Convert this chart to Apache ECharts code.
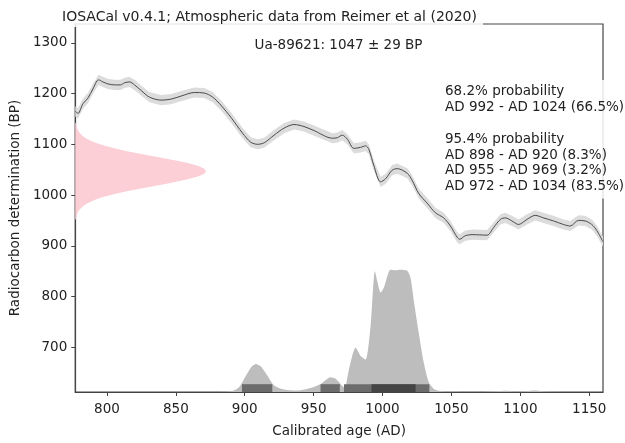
<!DOCTYPE html>
<html><head><meta charset="utf-8">
<script src="https://cdn.jsdelivr.net/npm/echarts@6/dist/echarts.min.js"></script>
<style>html,body{margin:0;padding:0;background:#fff}#c{width:625px;height:443px}</style>
</head><body><div id="c"></div>
<script>
// Calibration curve (AD, BP)
const curveYears = [777, 779, 782.6, 786.2, 789.8, 793.9, 797, 800.7, 805.5, 809.8, 812.7, 816.3, 820, 824.8, 830.8, 839.3, 846.5, 853.8, 863.4, 870.6, 876.7, 882.7, 890, 898.4, 904.4, 909.3, 914.1, 921.3, 928.6, 935.8, 943, 950.3, 963.6, 967.2, 970.8, 974.5, 979.2, 984.1, 987.7, 990.1, 993.7, 998.6, 1002.2, 1007, 1010.7, 1017.9, 1021.5, 1026.3, 1032.4, 1038.4, 1044.4, 1049.3, 1054.1, 1056, 1060.1, 1065, 1075.8, 1080.6, 1085.5, 1089.1, 1093.9, 1098.7, 1104.8, 1110.8, 1116.8, 1124.1, 1131.3, 1136.2, 1142.2, 1147, 1151.9, 1155.5, 1160];
const curveBP = [1165, 1161, 1180, 1191, 1209, 1227, 1223, 1219, 1217, 1217, 1221, 1223, 1217, 1206, 1193, 1187, 1189, 1195, 1202, 1201, 1193, 1177, 1153, 1122, 1104, 1100, 1103, 1118, 1132, 1139, 1135, 1127, 1112, 1113, 1118, 1110, 1092, 1094, 1097, 1090, 1058, 1026, 1032, 1049, 1052, 1043, 1029, 1003, 984, 965, 955, 939, 917, 913, 920, 922, 921, 936, 952, 955, 949, 942, 952, 960, 955, 949, 942, 939, 950, 949, 942, 930, 908];
const curveErr = 10;

// Calibrated probability (height above axis bottom, in BP units)
const densYears = [777, 880, 887, 892, 896, 899.6, 904.4, 908.1, 911.7, 916.5, 921.3, 928.6, 938.3, 947.9, 955.1, 962.4, 966, 970.8, 972.5, 975.6, 980.5, 984.1, 987.7, 991.3, 994.5, 996.2, 998.6, 1001, 1005.8, 1009.4, 1013.1, 1017.9, 1020.3, 1022.7, 1026.3, 1029.9, 1033.6, 1037.2, 1042, 1050, 1070, 1085, 1090, 1096, 1105, 1110, 1116, 1125, 1140, 1160];
const densHeight = [0, 0, 1, 3, 10, 26, 48, 55, 50, 32, 13, 5, 3, 8, 16, 29, 26, 12, 8, 44, 87, 71, 64, 129, 238, 218, 196, 206, 241, 240, 241, 239, 225, 180, 116, 58, 19, 6, 2, 1, 0.5, 2, 2.5, 1, 2, 3, 1.5, 0.5, 0, 0];

// Radiocarbon measurement distribution (BP, width in years from left edge)
const pinkBP =    [952, 957, 962, 967, 972, 977, 982, 987, 992, 997, 1002, 1007, 1012, 1017, 1022, 1027, 1032, 1037, 1042, 1047, 1052, 1057, 1062, 1067, 1072, 1077, 1082, 1087, 1092, 1097, 1102, 1107, 1112, 1117, 1122, 1127, 1132, 1137, 1142];
const pinkWidth = [0.45, 0.8, 1.3, 2.1, 3.4, 5.2, 7.7, 11.2, 15.8, 21.5, 28.5, 36.7, 45.9, 55.6, 65.5, 74.9, 83.1, 89.5, 93.6, 95, 93.6, 89.5, 83.1, 74.9, 65.5, 55.6, 45.9, 36.7, 28.5, 21.5, 15.8, 11.2, 7.7, 5.2, 3.4, 2.1, 1.3, 0.8, 0.45];

const ranges95 = [[898, 920], [955, 969], [972, 1034]];
const ranges68 = [[992, 1024]];

const xTicks = [800, 850, 900, 950, 1000, 1050, 1100, 1150];
const yTicks = [700, 800, 900, 1000, 1100, 1200, 1300];

const titleText = 'IOSACal v0.4.1; Atmospheric data from Reimer et al (2020)';
const sampleText = 'Ua-89621: 1047 ± 29 BP';
const probLines = ['68.2% probability', 'AD 992 - AD 1024 (66.5%)', '', '95.4% probability', 'AD 898 - AD 920 (8.3%)', 'AD 955 - AD 969 (3.2%)', 'AD 972 - AD 1034 (83.5%)'];

const xMin = 777, xMax = 1160, yMin = 612, yMax = 1337;
const barH = 15.4;
const FONT = 'DejaVu Sans';
const AX = '#444';
const FS = 13.5;

const chart = echarts.init(document.getElementById('c'), null, {renderer: 'canvas'});

const curveData = curveYears.map((x, i) => [x, curveBP[i]]);
const densData = densYears.map((x, i) => [x, yMin + densHeight[i]]);

function polySeries(name, buildPts, color, z) {
  return {
    type: 'custom', name: name, z: z, silent: true, clip: true,
    data: [[xMin, yMin]],
    renderItem: function (params, api) {
      return {type: 'polygon', shape: {points: buildPts(api)}, style: {fill: color}};
    }
  };
}

function rangeSeries(ranges, color, z) {
  return {
    type: 'custom', z: z, silent: true,
    data: ranges.map(r => [r[0], r[1]]),
    renderItem: function (params, api) {
      const p1 = api.coord([api.value(0), yMin]);
      const p2 = api.coord([api.value(1), yMin + barH]);
      return {type: 'rect', shape: {x: p1[0], y: p2[1], width: p2[0] - p1[0], height: p1[1] - p2[1]}, style: {fill: color}};
    }
  };
}

const plain = v => String(Math.round(v));

const option = {
  animation: false,
  backgroundColor: '#fff',
  textStyle: {fontFamily: FONT},
  grid: {left: 74, right: 22, top: 24, bottom: 43, show: true, borderColor: AX, borderWidth: 1.2, backgroundColor: 'transparent'},
  xAxis: {
    type: 'value', min: xMin, max: xMax,
    name: 'Calibrated age (AD)', nameLocation: 'middle', nameGap: 32,
    nameTextStyle: {fontSize: FS, color: '#222', fontFamily: FONT},
    axisLine: {show: true, lineStyle: {color: AX, width: 1.2}},
    axisTick: {show: true, inside: false, length: 4, lineStyle: {color: AX, width: 1}, customValues: xTicks},
    axisLabel: {color: '#222', fontSize: FS, fontFamily: FONT, margin: 10, customValues: xTicks, formatter: plain},
    splitLine: {show: false}
  },
  yAxis: {
    type: 'value', min: yMin, max: yMax,
    name: 'Radiocarbon determination (BP)', nameLocation: 'middle', nameGap: 45, nameRotate: 90,
    nameTextStyle: {fontSize: FS, color: '#222', fontFamily: FONT},
    axisLine: {show: true, lineStyle: {color: AX, width: 1.2}},
    axisTick: {show: true, inside: false, length: 4, lineStyle: {color: AX, width: 1}, customValues: yTicks},
    axisLabel: {color: '#222', fontSize: FS, fontFamily: FONT, margin: 8, customValues: yTicks, formatter: plain},
    splitLine: {show: false}
  },
  series: [
    polySeries('band', function (api) {
      const up = curveData.map(d => api.coord([d[0], d[1] + curveErr]));
      const lo = curveData.slice().reverse().map(d => api.coord([d[0], d[1] - curveErr]));
      return up.concat(lo);
    }, '#dcdcdc', 1),
    {
      type: 'line', name: 'curve', data: curveData, smooth: 0.3, symbol: 'none', z: 3,
      lineStyle: {color: '#4a4a4a', width: 1}, silent: true
    },
    polySeries('pink', function (api) {
      const pts = [api.coord([xMin, pinkBP[0]])];
      pinkBP.forEach((b, i) => pts.push(api.coord([xMin + pinkWidth[i], b])));
      pts.push(api.coord([xMin, pinkBP[pinkBP.length - 1]]));
      return pts;
    }, '#fccfd7', 2),
    {
      type: 'line', name: 'density', data: densData, smooth: 0.25, symbol: 'none', z: 2,
      lineStyle: {width: 0}, areaStyle: {color: '#bdbdbd', opacity: 1, origin: 'start'}, silent: true
    },
    rangeSeries(ranges95, '#6c6c6c', 4),
    rangeSeries(ranges68, '#444444', 5)
  ],
  graphic: [
    {type: 'text', z: 100, style: {x: 62, y: 17, text: titleText, font: '14px "DejaVu Sans"', fill: '#222', textVerticalAlign: 'middle', backgroundColor: 'rgba(255,255,255,0.85)', padding: [2, 6, 4, 0]}},
    {type: 'text', z: 100, style: {x: 338.5, y: 45, text: sampleText, font: FS + 'px "DejaVu Sans"', fill: '#222', textAlign: 'center', textVerticalAlign: 'middle'}},
    {type: 'text', z: 100, style: {x: 441, y: 80, text: probLines.join('\n'), font: FS + 'px "DejaVu Sans"', lineHeight: 15.8, fill: '#222', textVerticalAlign: 'top', backgroundColor: 'rgba(255,255,255,0.85)', padding: [4, 4, 4, 4]}}
  ]
};
chart.setOption(option);
</script>
</body></html>
